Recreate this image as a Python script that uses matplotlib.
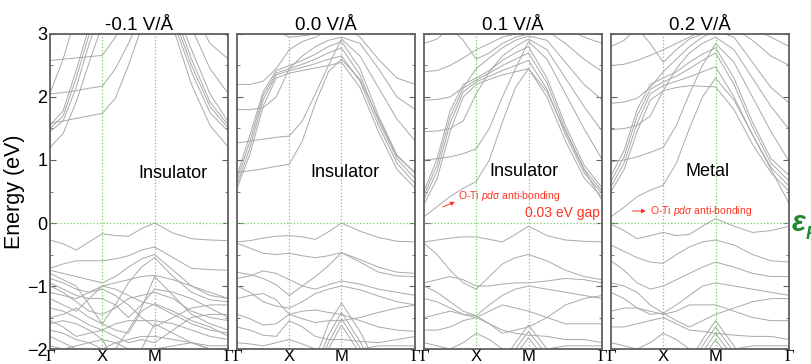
import matplotlib
matplotlib.use('Agg')
import matplotlib.pyplot as plt
from matplotlib.ticker import MultipleLocator

plt.rcParams['font.family'] = ['Liberation Sans', 'DejaVu Sans']
plt.rcParams['mathtext.fontset'] = 'custom'
plt.rcParams['mathtext.rm'] = 'Liberation Sans'
plt.rcParams['mathtext.it'] = 'Liberation Sans:italic'
plt.rcParams['mathtext.bf'] = 'Liberation Sans:bold'

BAND_COLOR = '#a9a9a9'
GUIDE_COLOR = '#77cc66'
NOTE_COLOR = '#ff3322'
SPINE_COLOR = '#606060'

# k-path positions: Gamma=0, X=1, M=2, Gamma=2+sqrt(2)
K_PATH = [0.0, 0.25, 0.5, 0.75, 1.0, 1.25, 1.5, 1.75, 2.0, 2.354, 2.707, 3.061, 3.414]
K_TICKS = [0.0, 1.0, 2.0, 3.414]
K_LABELS = ['Γ', 'X', 'M', 'Γ']

TITLES = ['-0.1 V/Å', '0.0 V/Å', '0.1 V/Å', '0.2 V/Å']
STATES = ['Insulator', 'Insulator', 'Insulator', 'Metal']
STATE_POS = [(2.35, 0.79), (2.07, 0.80), (1.91, 0.81), (1.84, 0.81)]

# ---- -0.1 V/A ----
COND_M01 = [
    [1.20, 1.42, 1.92, 2.55, 3.15, 3.60, 3.90, 4.10, 4.20, 3.10, 2.20, 1.55, 1.20],
    [1.45, 1.62, 2.15, 2.85, 3.45, 3.80, 4.00, 4.20, 4.30, 3.20, 2.40, 1.75, 1.45],
    [1.50, 1.70, 2.30, 3.00, 3.55, 3.90, 4.10, 4.30, 4.40, 3.30, 2.50, 1.85, 1.50],
    [1.55, 1.78, 2.42, 3.12, 3.65, 4.00, 4.20, 4.40, 4.50, 3.40, 2.60, 1.92, 1.55],
    [1.58, 1.62, 1.66, 1.70, 1.74, 1.98, 2.50, 3.10, 3.60, 3.50, 2.75, 2.05, 1.60],
    [2.05, 2.07, 2.10, 2.14, 2.17, 2.45, 2.85, 3.30, 3.70, 3.85, 3.10, 2.45, 2.05],
    [2.58, 2.60, 2.62, 2.64, 2.66, 2.95, 3.30, 3.60, 3.90, 4.10, 3.40, 2.85, 2.60],
    [2.06, 2.60, 3.30, 3.80, 4.00, 4.10, 4.20, 4.30, 4.40, 4.30, 3.80, 3.20, 2.95],
]
VAL_M01 = [
    [-0.27, -0.33, -0.43, -0.30, -0.17, -0.20, -0.21, -0.09, 0.00, -0.16, -0.25, -0.27, -0.28],
    [-0.72, -0.65, -0.60, -0.60, -0.60, -0.57, -0.52, -0.43, -0.38, -0.55, -0.72, -0.74, -0.75],
    [-0.75, -0.80, -0.85, -0.90, -0.95, -0.85, -0.70, -0.57, -0.50, -0.75, -1.00, -1.15, -1.20],
    [-0.80, -0.90, -1.00, -1.30, -1.60, -1.30, -0.95, -0.70, -0.55, -0.85, -1.10, -1.22, -1.25],
    [-0.88, -0.95, -1.05, -1.10, -1.00, -0.95, -0.90, -0.85, -0.83, -0.90, -1.00, -1.10, -1.20],
    [-0.95, -1.05, -1.15, -1.20, -1.20, -1.30, -1.50, -1.30, -1.05, -1.10, -1.20, -1.35, -1.50],
    [-1.00, -1.10, -1.25, -1.40, -1.45, -1.35, -1.20, -1.15, -1.10, -1.20, -1.40, -1.50, -1.55],
    [-1.50, -1.45, -1.35, -1.50, -1.60, -1.70, -1.75, -1.40, -1.28, -1.40, -1.55, -1.65, -1.80],
    [-1.55, -1.65, -1.80, -1.75, -1.70, -1.60, -1.55, -1.55, -1.55, -1.60, -1.70, -1.80, -1.85],
    [-1.70, -1.75, -1.85, -1.90, -2.00, -1.90, -1.85, -1.80, -1.80, -1.85, -1.90, -1.95, -1.95],
    [-1.80, -1.90, -2.00, -2.20, -2.40, -2.00, -1.70, -1.35, -0.85, -1.15, -1.45, -1.60, -1.70],
    [-1.20, -1.30, -1.40, -1.20, -1.00, -1.05, -1.15, -1.25, -1.30, -1.45, -1.60, -1.70, -1.75],
    [-1.95, -2.00, -1.95, -1.90, -1.85, -1.90, -2.00, -2.00, -2.00, -1.95, -1.90, -2.00, -2.05],
    [-1.60, -1.55, -1.60, -1.70, -1.85, -2.20, -2.50, -2.00, -1.60, -1.75, -1.90, -2.00, -2.00],
    [-1.35, -1.40, -1.50, -1.62, -1.70, -1.80, -1.90, -1.85, -1.90, -1.70, -1.50, -1.45, -1.45],
    [-1.10, -1.15, -1.20, -1.10, -1.05, -1.15, -1.30, -1.50, -1.65, -1.50, -1.35, -1.30, -1.30],
]

# ---- 0.0 V/A ----
COND_00 = [
    [0.55, 1.10, 1.85, 2.30, 2.38, 2.42, 2.46, 2.50, 2.55, 2.15, 1.45, 0.85, 0.55],
    [0.60, 1.20, 1.95, 2.35, 2.42, 2.47, 2.53, 2.60, 2.65, 2.25, 1.55, 0.95, 0.62],
    [0.68, 1.30, 2.02, 2.38, 2.45, 2.52, 2.60, 2.70, 2.78, 2.35, 1.62, 1.02, 0.70],
    [0.75, 1.40, 2.08, 2.42, 2.50, 2.58, 2.68, 2.80, 2.88, 2.45, 1.70, 1.08, 0.78],
    [0.80, 0.83, 0.86, 0.90, 0.93, 1.30, 1.90, 2.40, 2.60, 2.28, 1.66, 1.06, 0.80],
    [1.27, 1.30, 1.33, 1.36, 1.38, 1.62, 2.05, 2.50, 2.92, 2.65, 2.15, 1.65, 1.30],
    [1.80, 1.80, 1.83, 2.00, 2.45, 2.65, 2.80, 2.90, 2.95, 2.85, 2.45, 2.00, 1.80],
    [2.20, 2.20, 2.25, 2.45, 2.75, 2.88, 2.95, 3.05, 3.15, 2.95, 2.60, 2.30, 2.20],
    [3.60, 3.40, 3.20, 3.05, 2.95, 2.97, 3.00, 3.05, 3.10, 3.30, 3.50, 3.60, 3.70],
]
VAL_00 = [
    [-0.30, -0.28, -0.24, -0.21, -0.20, -0.22, -0.26, -0.14, 0.00, -0.13, -0.23, -0.29, -0.30],
    [-0.32, -0.40, -0.48, -0.50, -0.48, -0.52, -0.55, -0.52, -0.47, -0.58, -0.70, -0.78, -0.80],
    [-0.78, -0.82, -0.88, -0.98, -1.15, -1.00, -0.85, -0.68, -0.47, -0.62, -0.78, -0.84, -0.85],
    [-0.88, -0.84, -0.76, -0.80, -0.90, -1.00, -1.05, -0.98, -0.92, -0.97, -1.05, -1.10, -1.15],
    [-1.00, -1.10, -1.25, -1.32, -1.35, -1.25, -1.12, -1.05, -1.00, -1.06, -1.16, -1.25, -1.30],
    [-1.20, -1.15, -1.12, -1.22, -1.45, -1.52, -1.58, -1.55, -1.55, -1.50, -1.42, -1.35, -1.30],
    [-1.45, -1.52, -1.62, -1.60, -1.45, -1.40, -1.38, -1.42, -1.45, -1.55, -1.65, -1.70, -1.72],
    [-1.65, -1.70, -1.78, -1.80, -1.55, -1.65, -1.80, -1.85, -1.85, -1.88, -1.90, -1.85, -1.80],
    [-1.90, -1.92, -1.95, -1.90, -1.85, -1.92, -2.00, -2.05, -2.05, -2.00, -1.95, -1.95, -1.95],
    [-2.50, -2.50, -2.48, -2.40, -2.32, -2.28, -2.15, -1.60, -1.27, -1.72, -2.30, -2.60, -2.70],
    [-2.60, -2.60, -2.55, -2.50, -2.45, -2.40, -2.30, -1.78, -1.42, -1.88, -2.45, -2.70, -2.80],
    [-2.70, -2.70, -2.65, -2.60, -2.55, -2.50, -2.40, -1.90, -1.52, -1.98, -2.55, -2.80, -2.90],
    [-2.80, -2.80, -2.75, -2.70, -2.65, -2.60, -2.50, -2.00, -1.62, -2.08, -2.65, -2.90, -3.00],
]

# ---- 0.1 V/A ----
COND_01 = [
    [0.30, 0.70, 1.45, 2.00, 2.20, 2.28, 2.35, 2.40, 2.45, 2.00, 1.30, 0.72, 0.40],
    [0.38, 0.82, 1.58, 2.08, 2.24, 2.33, 2.42, 2.50, 2.58, 2.12, 1.40, 0.80, 0.46],
    [0.44, 0.92, 1.68, 2.14, 2.27, 2.38, 2.50, 2.60, 2.70, 2.22, 1.48, 0.86, 0.50],
    [0.50, 1.02, 1.78, 2.20, 2.30, 2.42, 2.58, 2.70, 2.80, 2.30, 1.55, 0.92, 0.55],
    [0.10, 0.26, 0.42, 0.55, 0.66, 1.00, 1.60, 2.15, 2.45, 2.08, 1.45, 0.85, 0.35],
    [1.00, 1.02, 1.05, 1.10, 1.18, 1.50, 2.00, 2.45, 2.88, 2.60, 2.05, 1.50, 1.00],
    [1.45, 1.46, 1.50, 1.62, 2.05, 2.40, 2.65, 2.80, 2.92, 2.75, 2.30, 1.85, 1.45],
    [1.95, 1.96, 2.00, 2.15, 2.45, 2.62, 2.78, 2.90, 2.97, 2.90, 2.55, 2.20, 1.95],
    [2.40, 2.42, 2.50, 2.62, 2.75, 2.85, 2.95, 3.00, 3.05, 3.05, 2.85, 2.60, 2.40],
    [2.85, 2.92, 3.10, 2.90, 2.60, 2.70, 2.85, 2.95, 3.00, 3.20, 3.10, 2.95, 2.85],
]
VAL_01 = [
    [-0.30, -0.27, -0.24, -0.22, -0.22, -0.26, -0.30, -0.18, -0.05, -0.20, -0.27, -0.29, -0.30],
    [-0.32, -0.50, -0.75, -0.95, -1.05, -0.85, -0.65, -0.55, -0.50, -0.60, -0.75, -0.85, -0.90],
    [-0.95, -0.90, -0.85, -0.90, -1.00, -1.00, -0.97, -0.95, -0.95, -0.92, -0.88, -0.90, -0.95],
    [-1.00, -1.10, -1.25, -1.40, -1.47, -1.30, -1.15, -1.05, -1.00, -1.05, -1.10, -1.15, -1.20],
    [-1.20, -1.25, -1.35, -1.45, -1.47, -1.60, -1.75, -1.70, -1.65, -1.50, -1.30, -1.20, -1.15],
    [-1.50, -1.45, -1.40, -1.45, -1.50, -1.40, -1.30, -1.35, -1.40, -1.50, -1.60, -1.60, -1.60],
    [-1.70, -1.70, -1.65, -1.55, -1.50, -1.60, -1.70, -1.75, -1.78, -1.80, -1.85, -1.85, -1.90],
    [-1.90, -1.95, -2.00, -1.90, -1.75, -1.85, -2.00, -2.05, -2.05, -2.00, -1.95, -1.95, -1.95],
    [-2.50, -2.50, -2.50, -2.40, -2.35, -2.30, -2.20, -1.90, -1.62, -2.00, -2.50, -2.70, -2.80],
    [-2.60, -2.60, -2.60, -2.50, -2.45, -2.40, -2.30, -2.00, -1.72, -2.10, -2.60, -2.80, -2.90],
    [-2.70, -2.70, -2.70, -2.60, -2.55, -2.50, -2.40, -2.10, -1.82, -2.20, -2.70, -2.90, -3.00],
]

# ---- 0.2 V/A ----
COND_02 = [
    [0.50, 0.85, 1.45, 1.95, 2.10, 2.15, 2.18, 2.17, 2.16, 1.80, 1.25, 0.80, 0.50],
    [0.58, 0.95, 1.58, 2.05, 2.18, 2.25, 2.32, 2.40, 2.48, 2.00, 1.40, 0.88, 0.58],
    [0.66, 1.05, 1.70, 2.12, 2.24, 2.33, 2.45, 2.58, 2.70, 2.20, 1.52, 0.95, 0.66],
    [0.75, 1.15, 1.80, 2.20, 2.30, 2.40, 2.55, 2.68, 2.78, 2.30, 1.60, 1.02, 0.75],
    [0.10, 0.25, 0.42, 0.52, 0.60, 0.95, 1.50, 2.00, 2.30, 1.95, 1.40, 0.85, 0.30],
    [0.97, 1.00, 1.05, 1.12, 1.20, 1.55, 2.05, 2.50, 2.85, 2.55, 2.00, 1.45, 0.97],
    [1.48, 1.50, 1.55, 1.70, 2.10, 2.45, 2.70, 2.85, 2.95, 2.75, 2.30, 1.85, 1.48],
    [1.90, 1.92, 1.98, 2.15, 2.40, 2.60, 2.80, 2.95, 3.05, 2.95, 2.55, 2.15, 1.90],
    [2.50, 2.52, 2.58, 2.66, 2.75, 2.85, 2.95, 3.05, 3.10, 3.10, 2.90, 2.65, 2.50],
    [2.80, 2.90, 3.10, 2.85, 2.55, 2.75, 2.92, 3.00, 3.05, 3.20, 3.10, 2.95, 2.80],
]
VAL_02 = [
    [-0.02, -0.12, -0.25, -0.20, -0.15, -0.20, -0.18, -0.05, 0.07, -0.05, -0.15, -0.12, -0.05],
    [-0.35, -0.45, -0.55, -0.62, -0.64, -0.50, -0.38, -0.30, -0.27, -0.35, -0.50, -0.60, -0.62],
    [-0.60, -0.75, -0.95, -1.05, -1.00, -0.90, -0.80, -0.70, -0.62, -0.70, -0.80, -0.85, -0.85],
    [-0.95, -1.00, -1.10, -1.30, -1.43, -1.30, -1.15, -1.00, -0.95, -1.00, -1.05, -1.10, -1.15],
    [-1.10, -1.20, -1.35, -1.45, -1.43, -1.55, -1.65, -1.55, -1.45, -1.35, -1.25, -1.20, -1.20],
    [-1.40, -1.35, -1.35, -1.40, -1.45, -1.40, -1.30, -1.30, -1.30, -1.40, -1.50, -1.55, -1.55],
    [-1.65, -1.65, -1.60, -1.55, -1.50, -1.60, -1.70, -1.72, -1.75, -1.78, -1.80, -1.80, -1.85],
    [-1.90, -1.95, -2.00, -1.90, -1.75, -1.85, -2.00, -2.05, -2.05, -2.00, -1.95, -1.95, -1.95],
    [-2.50, -2.50, -2.50, -2.40, -2.35, -2.30, -2.20, -1.85, -1.55, -1.95, -2.50, -2.70, -2.80],
    [-2.60, -2.60, -2.60, -2.50, -2.45, -2.40, -2.30, -1.95, -1.65, -2.05, -2.60, -2.80, -2.90],
    [-2.70, -2.70, -2.70, -2.60, -2.55, -2.50, -2.40, -2.05, -1.75, -2.15, -2.70, -2.90, -3.00],
    [-2.80, -2.80, -2.80, -2.70, -2.65, -2.60, -2.50, -2.15, -1.85, -2.25, -2.80, -3.00, -3.10],
]

PANELS = [COND_M01 + VAL_M01, COND_00 + VAL_00, COND_01 + VAL_01, COND_02 + VAL_02]

# axes rectangles in figure fractions (811 x 364 px)
AX_LEFT = [0.0617, 0.2922, 0.5228, 0.7534]
AX_WIDTH = 0.2200
AX_BOTTOM = 0.0412
AX_HEIGHT = 0.8654


def draw_panel(ax, bands, idx):
    for b in bands:
        ax.plot(K_PATH, b, color=BAND_COLOR, linewidth=0.7)
    ax.axhline(0.0, color=GUIDE_COLOR, linestyle=':', linewidth=0.9)
    for k in K_TICKS[1:3]:
        ax.axvline(k, color=GUIDE_COLOR, linestyle=':', linewidth=0.9)
    ax.set_xlim(0, K_TICKS[-1])
    ax.set_ylim(-2, 3)
    ax.set_xticks(K_TICKS)
    ax.set_xticklabels(K_LABELS, fontsize=12)
    for lab in (ax.get_xticklabels()[0], ax.get_xticklabels()[-1]):
        lab.set_fontfamily('Liberation Serif')
    ax.yaxis.set_major_locator(MultipleLocator(1))
    ax.yaxis.set_minor_locator(MultipleLocator(0.5))
    ax.tick_params(axis='y', which='both', direction='in', left=True, right=True,
                   color=SPINE_COLOR, labelsize=13, pad=2)
    ax.tick_params(axis='y', which='major', length=4)
    ax.tick_params(axis='y', which='minor', length=2)
    ax.tick_params(axis='x', direction='in', length=0, pad=0)
    if idx > 0:
        ax.tick_params(axis='y', labelleft=False)
    for s in ax.spines.values():
        s.set_color(SPINE_COLOR)
        s.set_linewidth(1.3)
    ax.set_title(TITLES[idx], fontsize=13.5, pad=2)
    x, y = STATE_POS[idx]
    ax.text(x, y, STATES[idx], fontsize=13, ha='center', va='center')


fig = plt.figure(figsize=(8.11, 3.64), dpi=100)
axes = []
for i, bands in enumerate(PANELS):
    ax = fig.add_axes([AX_LEFT[i], AX_BOTTOM, AX_WIDTH, AX_HEIGHT])
    draw_panel(ax, bands, i)
    axes.append(ax)

axes[0].set_ylabel('Energy (eV)', fontsize=15.5, labelpad=1)

# annotations
note = 'O-Ti $pd\\sigma$ anti-bonding'
axes[2].text(0.66, 0.43, note, color=NOTE_COLOR, fontsize=7.5, va='center')
axes[2].annotate('', xy=(0.64, 0.35), xytext=(0.31, 0.24),
                 arrowprops=dict(arrowstyle='-|>', color=NOTE_COLOR, lw=0.7,
                                 mutation_scale=6))
axes[2].text(3.36, 0.16, '0.03 eV gap', color=NOTE_COLOR, fontsize=10,
             ha='right', va='center')
axes[3].text(0.75, 0.19, note, color=NOTE_COLOR, fontsize=7.5, va='center')
axes[3].annotate('', xy=(0.72, 0.19), xytext=(0.36, 0.19),
                 arrowprops=dict(arrowstyle='-|>', color=NOTE_COLOR, lw=0.7,
                                 mutation_scale=6))

fig.text(0.976, 0.388, 'ε', color='#1e8a30', fontsize=21, fontstyle='italic',
         fontweight='bold', ha='left', va='center')
fig.text(0.993, 0.355, 'F', color='#1e8a30', fontsize=13, fontstyle='italic',
         fontweight='bold', ha='left', va='center')

fig.savefig('out.png', dpi=100)
